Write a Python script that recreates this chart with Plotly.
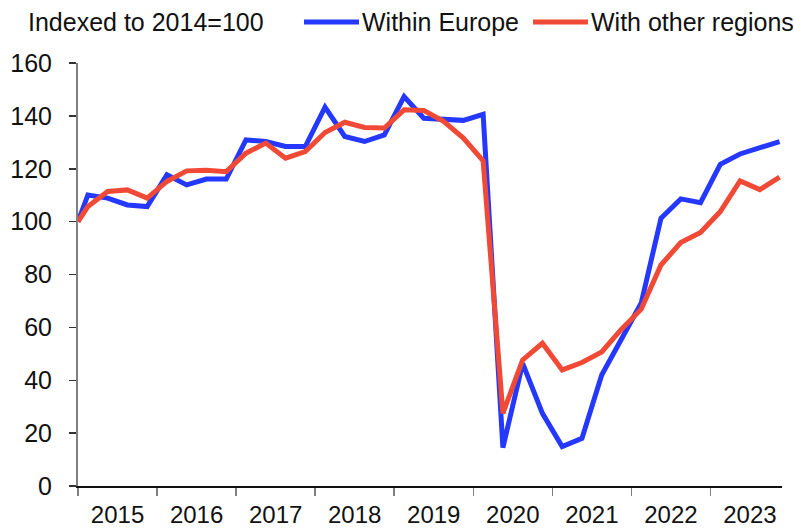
import plotly.graph_objects as go

# ---- data ----
years = [2015, 2016, 2017, 2018, 2019, 2020, 2021, 2022, 2023]
periods = ["2014"] + [f"{y}Q{q}" for y in years for q in (1, 2, 3, 4)]

within_europe = [100,
                 110.1, 108.9, 106.3, 105.7,
                 117.7, 113.9, 116.1, 116.1,
                 130.9, 130.3, 128.4, 128.4,
                 143.3, 132.2, 130.3, 132.8,
                 147.3, 139.1, 138.8, 138.3,
                 140.6, 14.5, 46.4, 27.5,
                 14.9, 18.0, 42.0, 55.6,
                 69.2, 101.3, 108.6, 107.2,
                 121.7, 125.6, 127.9, 130.3]

other_regions = [100,
                 105.7, 111.4, 112.0, 108.9,
                 115.2, 119.2, 119.4, 118.9,
                 125.9, 129.7, 124.0, 126.5,
                 133.7, 137.6, 135.6, 135.4,
                 142.3, 142.0, 137.9, 131.6,
                 123.0, 27.5, 47.7, 54.0,
                 43.9, 46.7, 50.7, 59.3,
                 66.9, 83.6, 92.1, 95.9,
                 103.8, 115.4, 112.1, 116.8]

y_ticks = [0, 20, 40, 60, 80, 100, 120, 140, 160]
series_names = ["Within Europe", "With other regions"]
title_text = "Indexed to 2014=100"


def period_pos(p):
    # base year value sits at the end of that year; quarters at mid-quarter
    if "Q" not in p:
        return int(p) + 1.0
    y, q = p.split("Q")
    return int(y) + (int(q) - 0.5) / 4.0


x = [period_pos(p) for p in periods]

BLUE = "#2438FF"
RED = "#F04A36"
FONT = "Liberation Sans, Arial, sans-serif"
FS = 25
LW = 5

W, H = 794, 528
ML, MR, MT, MB = 78, 12, 63, 42
PW, PH = W - ML - MR, H - MT - MB
YEAR_PX = 79.05


def px_x(px):
    return (px - ML) / PW


def px_y(py):
    return (H - MB - py) / PH


fig = go.Figure()
fig.add_trace(go.Scatter(x=x, y=within_europe, mode="lines", name=series_names[0],
                         line=dict(color=BLUE, width=LW), showlegend=False))
fig.add_trace(go.Scatter(x=x, y=other_regions, mode="lines", name=series_names[1],
                         line=dict(color=RED, width=LW), showlegend=False))

x_end = years[0] + PW / YEAR_PX

fig.update_layout(
    width=W, height=H,
    margin=dict(l=ML, r=MR, t=MT, b=MB),
    paper_bgcolor="white", plot_bgcolor="white",
    font=dict(family=FONT, size=FS, color="#111111"),
    xaxis=dict(
        range=[years[0], x_end],
        tickmode="array",
        tickvals=[yr + 0.5 for yr in years],
        ticktext=[str(yr) for yr in years],
        ticks="",
        ticklabelstandoff=7,
        showline=True, linecolor="#111111", linewidth=1.5,
        showgrid=False, zeroline=False, automargin=False,
        minor=dict(tickmode="array", tickvals=years, ticks="outside",
                   ticklen=8, tickwidth=1.5, tickcolor="#808080", showgrid=False),
        tickfont=dict(size=24, family=FONT, color="#111111"),
    ),
    yaxis=dict(
        range=[0, 160],
        tickmode="array", tickvals=y_ticks,
        ticks="outside", ticklen=7, tickwidth=1.5, tickcolor="#333333",
        ticklabelstandoff=12,
        showline=True, linecolor="#808080", linewidth=2,
        showgrid=False, zeroline=False, automargin=False,
        tickfont=dict(size=FS, family=FONT, color="#111111"),
    ),
)

# title
fig.add_annotation(xref="paper", yref="paper", x=px_x(26), y=px_y(22),
                   text=title_text, showarrow=False, xanchor="left", yanchor="middle",
                   font=dict(size=FS, family=FONT, color="#111111"))

# custom legend
legend_items = [(series_names[0], BLUE, 304, 359), (series_names[1], RED, 533, 588)]
for name, col, x0, x1 in legend_items:
    fig.add_shape(type="line", xref="paper", yref="paper",
                  x0=px_x(x0), x1=px_x(x1), y0=px_y(22), y1=px_y(22),
                  line=dict(color=col, width=LW))
    fig.add_annotation(xref="paper", yref="paper", x=px_x(x1 + 1), y=px_y(22),
                       text=name, showarrow=False, xanchor="left", yanchor="middle",
                       font=dict(size=FS, family=FONT, color="#111111"))

fig.write_html("out.html",
               config={"displayModeBar": False, "staticPlot": True},
               post_script="document.body.style.margin='0';"
                           "document.body.style.overflow='hidden';")
